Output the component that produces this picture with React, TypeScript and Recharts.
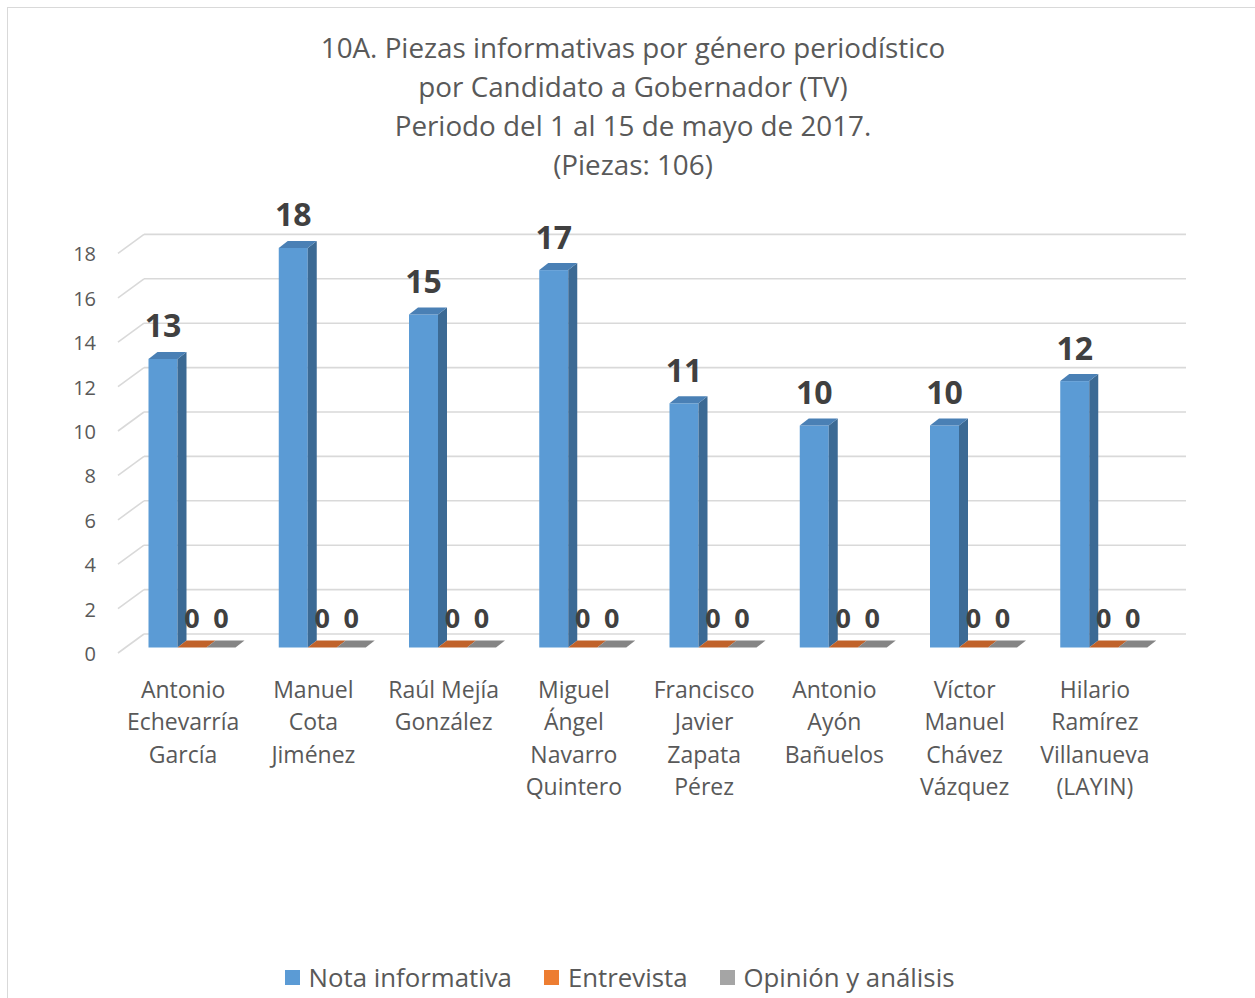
import React from "react";
import { BarChart, Bar, XAxis, YAxis, CartesianGrid, LabelList } from "recharts";

const categories = [
  "Antonio\nEchevarría\nGarcía",
  "Manuel\nCota\nJiménez",
  "Raúl Mejía\nGonzález",
  "Miguel\nÁngel\nNavarro\nQuintero",
  "Francisco\nJavier\nZapata\nPérez",
  "Antonio\nAyón\nBañuelos",
  "Víctor\nManuel\nChávez\nVázquez",
  "Hilario\nRamírez\nVillanueva\n(LAYIN)",
];
const notaInformativa = [13, 18, 15, 17, 11, 10, 10, 12];
const entrevista = [0, 0, 0, 0, 0, 0, 0, 0];
const opinionAnalisis = [0, 0, 0, 0, 0, 0, 0, 0];
const yTicks = [0, 2, 4, 6, 8, 10, 12, 14, 16, 18];
const titleLines = [
  "10A. Piezas informativas por género periodístico",
  "por Candidato a Gobernador (TV)",
  "Periodo del 1 al 15 de mayo de 2017.",
  "(Piezas: 106)",
];
const seriesNames = ["Nota informativa", "Entrevista", "Opinión y análisis"];

const data = categories.map((c, i) => ({
  name: c,
  nota: notaInformativa[i],
  entrevista: entrevista[i],
  opinion: opinionAnalisis[i],
}));

const W = 1255;
const H = 998;
const PLOT_LEFT = 118;
const PLOT_RIGHT = 1160;
const PLOT_TOP = 253.4;
const PLOT_BOTTOM = 653;
const Y_AXIS_W = 60;
const X_AXIS_H = 160;
const FLOOR_DX = 26;
const FLOOR_DY = 19;
const OFF_X = 8.5;
const OFF_Y = 5.5;
const BDX = 9;
const BDY = 7;
const FONT = "'Open Sans', 'Noto Sans', sans-serif";
const TEXT = "#595959";
const LABEL = "#404040";

const palettes = [
  { front: "#5B9BD5", side: "#3C6A94", top: "#4A80B5", legend: "#5B9BD5" },
  { front: "#ED7D31", side: "#A3561F", top: "#C0622A", legend: "#ED7D31" },
  { front: "#A5A5A5", side: "#727272", top: "#858585", legend: "#A5A5A5" },
];

const make3DShape = (pi: number) => (props: any) => {
  const { x, y, width, height } = props;
  const p = palettes[pi];
  const fx = x + OFF_X;
  const fy = y - OFF_Y;
  const w = width;
  const h = Math.max(0, height);
  const top = `${fx},${fy} ${fx + BDX},${fy - BDY} ${fx + w + BDX},${fy - BDY} ${fx + w},${fy}`;
  if (h <= 0.5) {
    return (
      <g>
        <polygon points={top} fill={p.top} />
      </g>
    );
  }
  const side = `${fx + w},${fy} ${fx + w + BDX},${fy - BDY} ${fx + w + BDX},${fy + h - BDY} ${fx + w},${fy + h}`;
  return (
    <g>
      <rect x={fx} y={fy} width={w} height={h} fill={p.front} />
      <polygon points={side} fill={p.side} />
      <polygon points={top} fill={p.top} />
    </g>
  );
};

const makeLabel = (size: number, lift: number) => (props: any) => {
  const { x, y, width, value } = props;
  return (
    <text
      x={x + OFF_X + width / 2}
      y={y - lift}
      textAnchor="middle"
      fontFamily={FONT}
      fontWeight={700}
      fontSize={size}
      fill={LABEL}
    >
      {value}
    </text>
  );
};

const gridLine = (props: any) => {
  const { x1, x2, y1, index } = props;
  return (
    <g key={`g-${index}-${y1}`}>
      <line x1={x1} y1={y1} x2={x1 + FLOOR_DX} y2={y1 - FLOOR_DY} stroke="#D9D9D9" strokeWidth={1.6} />
      <line x1={x1 + FLOOR_DX} y1={y1 - FLOOR_DY} x2={x2 + FLOOR_DX} y2={y1 - FLOOR_DY} stroke="#D9D9D9" strokeWidth={1.6} />
    </g>
  );
};

const XTick = (props: any) => {
  const { x, payload } = props;
  const lines = String(payload.value).split("\n");
  return (
    <g>
      {lines.map((l, i) => (
        <text
          key={i}
          x={x}
          y={697.7 + i * 32.5}
          textAnchor="middle"
          fontFamily={FONT}
          fontSize={23}
          fill={TEXT}
        >
          {l}
        </text>
      ))}
    </g>
  );
};

const YTick = (props: any) => {
  const { y, payload } = props;
  return (
    <text x={96} y={y + 8} textAnchor="end" fontFamily={FONT} fontSize={20} fill={TEXT}>
      {payload.value}
    </text>
  );
};

export default function App() {
  return (
    <div style={{ position: "absolute", left: 0, top: 0, width: W, height: H, background: "#fff", overflow: "hidden" }}>
      <div
        style={{
          position: "absolute",
          left: 7,
          top: 7,
          width: W + 20,
          height: H + 20,
          border: "1.5px solid #D9D9D9",
          boxSizing: "border-box",
        }}
      />
      <svg style={{ position: "absolute", left: 0, top: 0 }} width={W} height={200}>
        {titleLines.map((t, i) => (
          <text
            key={i}
            x={633}
            y={58 + i * 39}
            textAnchor="middle"
            fontFamily={FONT}
            fontSize={27.8}
            fill={TEXT}
          >
            {t}
          </text>
        ))}
      </svg>
      <div style={{ position: "absolute", left: 0, top: 0 }}>
        <BarChart
          width={W}
          height={H}
          data={data}
          barSize={29}
          barGap={0}
          margin={{
            top: PLOT_TOP,
            right: W - PLOT_RIGHT,
            bottom: H - PLOT_BOTTOM - X_AXIS_H,
            left: PLOT_LEFT - Y_AXIS_W,
          }}
        >
          <CartesianGrid vertical={false} horizontal={gridLine} />
          <XAxis dataKey="name" axisLine={false} tickLine={false} interval={0} height={X_AXIS_H} tick={<XTick />} />
          <YAxis
            domain={[0, 18]}
            ticks={yTicks}
            axisLine={false}
            tickLine={false}
            width={Y_AXIS_W}
            tick={<YTick />}
            interval={0}
          />
          <Bar dataKey="nota" name={seriesNames[0]} isAnimationActive={false} shape={make3DShape(0)}>
            <LabelList dataKey="nota" content={makeLabel(32, 27)} />
          </Bar>
          <Bar dataKey="entrevista" name={seriesNames[1]} isAnimationActive={false} shape={make3DShape(1)}>
            <LabelList dataKey="entrevista" content={makeLabel(27, 25)} />
          </Bar>
          <Bar dataKey="opinion" name={seriesNames[2]} isAnimationActive={false} shape={make3DShape(2)}>
            <LabelList dataKey="opinion" content={makeLabel(27, 25)} />
          </Bar>
        </BarChart>
      </div>
      <div
        style={{
          position: "absolute",
          left: 0,
          width: W,
          top: 977 - 20,
          height: 40,
          display: "flex",
          justifyContent: "center",
          alignItems: "center",
          fontFamily: FONT,
          fontSize: 25.8,
          color: TEXT,
          boxSizing: "border-box",
          transform: "translateX(-8px)",
        }}
      >
        {seriesNames.map((n, i) => (
          <div key={n} style={{ display: "flex", alignItems: "center", marginRight: i < 2 ? 32 : 0 }}>
            <div style={{ width: 15, height: 15, background: palettes[i].legend, marginRight: 9 }} />
            <span style={{ lineHeight: "40px" }}>{n}</span>
          </div>
        ))}
      </div>
    </div>
  );
}
